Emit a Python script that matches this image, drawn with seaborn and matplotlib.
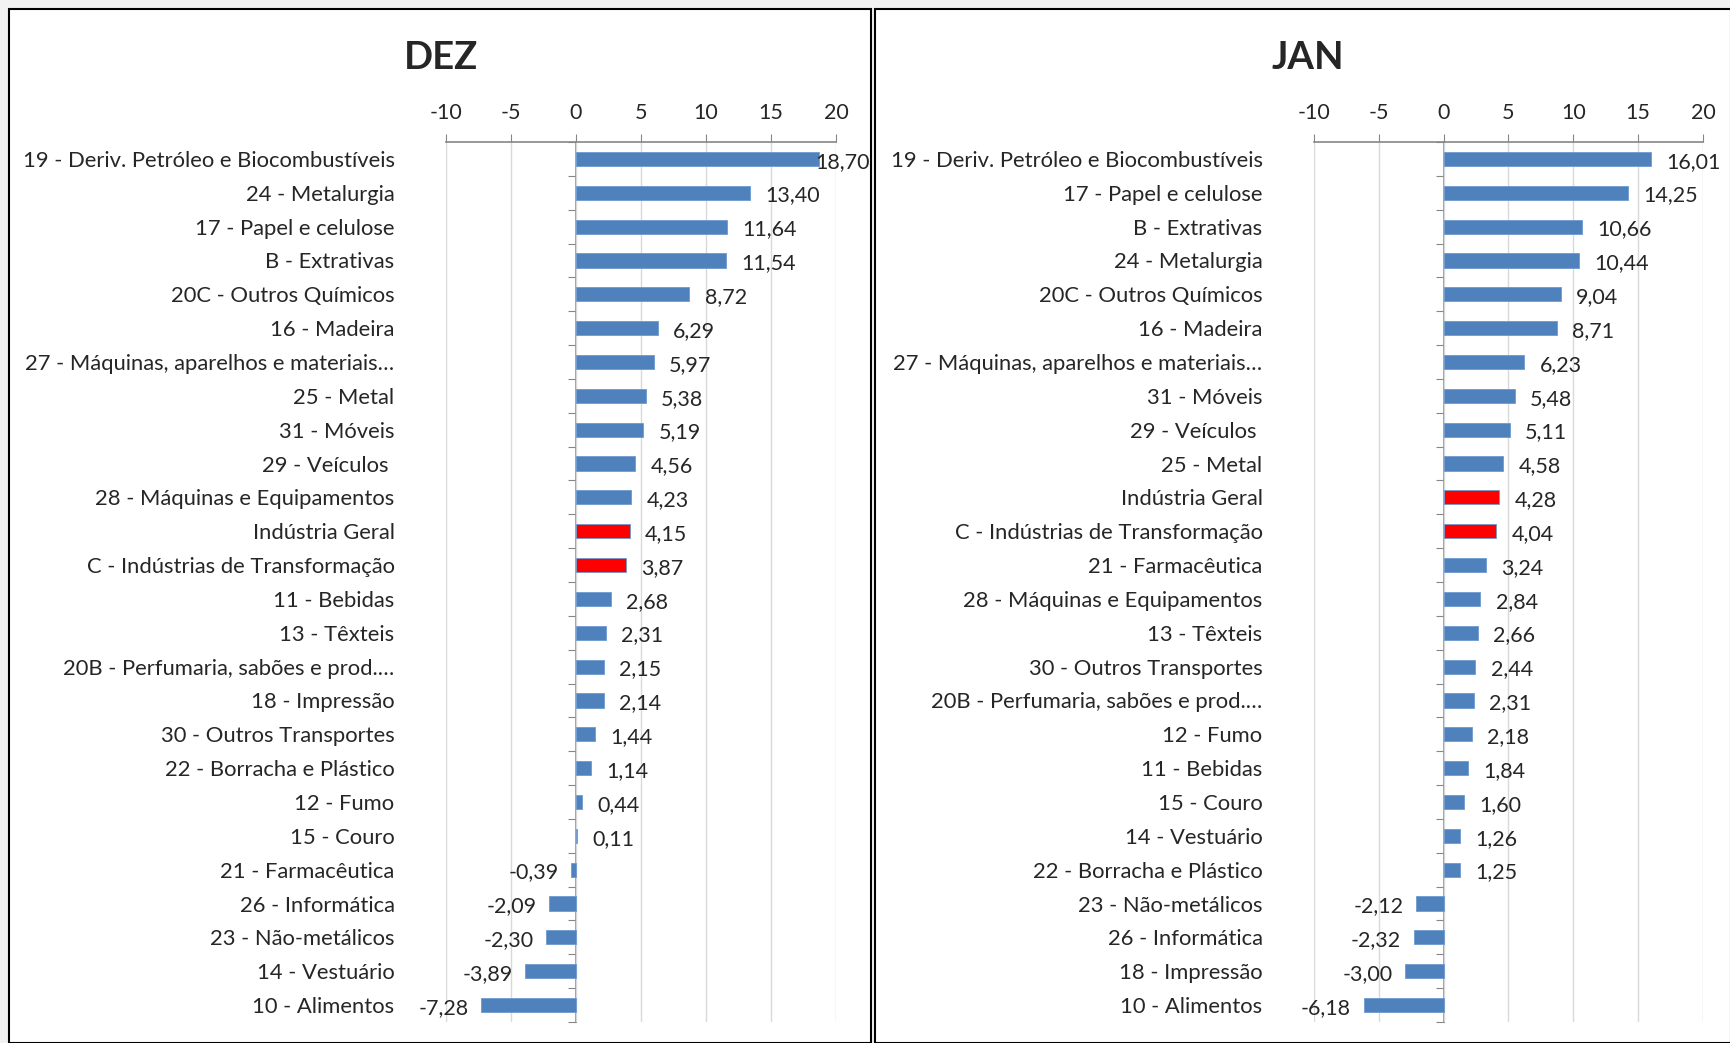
import numpy as np
import pandas as pd
import seaborn as sb
import matplotlib.pyplot as plt
from matplotlib.patches import Rectangle

sb.set_style("white")
plt.rcParams['font.family'] = ['Lato', 'DejaVu Sans']

dez_cats = ["19 - Deriv. Petróleo e Biocombustíveis", "24 - Metalurgia", "17 - Papel e celulose",
            "B - Extrativas", "20C - Outros Químicos", "16 - Madeira",
            "27 - Máquinas, aparelhos e materiais…", "25 - Metal", "31 - Móveis", "29 - Veículos ",
            "28 - Máquinas e Equipamentos", "Indústria Geral", "C - Indústrias de Transformação",
            "11 - Bebidas", "13 - Têxteis", "20B - Perfumaria, sabões e prod.…", "18 - Impressão",
            "30 - Outros Transportes", "22 - Borracha e Plástico", "12 - Fumo", "15 - Couro",
            "21 - Farmacêutica", "26 - Informática", "23 - Não-metálicos", "14 - Vestuário",
            "10 - Alimentos"]
dez_vals = [18.70, 13.40, 11.64, 11.54, 8.72, 6.29, 5.97, 5.38, 5.19, 4.56, 4.23, 4.15, 3.87,
            2.68, 2.31, 2.15, 2.14, 1.44, 1.14, 0.44, 0.11, -0.39, -2.09, -2.30, -3.89, -7.28]

jan_cats = ["19 - Deriv. Petróleo e Biocombustíveis", "17 - Papel e celulose", "B - Extrativas",
            "24 - Metalurgia", "20C - Outros Químicos", "16 - Madeira",
            "27 - Máquinas, aparelhos e materiais…", "31 - Móveis", "29 - Veículos ", "25 - Metal",
            "Indústria Geral", "C - Indústrias de Transformação", "21 - Farmacêutica",
            "28 - Máquinas e Equipamentos", "13 - Têxteis", "30 - Outros Transportes",
            "20B - Perfumaria, sabões e prod.…", "12 - Fumo", "11 - Bebidas", "15 - Couro",
            "14 - Vestuário", "22 - Borracha e Plástico", "23 - Não-metálicos", "26 - Informática",
            "18 - Impressão", "10 - Alimentos"]
jan_vals = [16.01, 14.25, 10.66, 10.44, 9.04, 8.71, 6.23, 5.48, 5.11, 4.58, 4.28, 4.04, 3.24,
            2.84, 2.66, 2.44, 2.31, 2.18, 1.84, 1.60, 1.26, 1.25, -2.12, -2.32, -3.00, -6.18]

highlight = ["Indústria Geral", "C - Indústrias de Transformação"]
x_ticks = [-10, -5, 0, 5, 10, 15, 20]

BLUE = "#4F81BD"
RED = "#FF0000"
GRID = "#D9D9D9"
AXIS = "#868686"

fig = plt.figure(figsize=(17.31, 10.43), dpi=100, facecolor="#F2F2F2")

# chart area frames
for x0, w in [(9, 862), (875, 856)]:
    fig.add_artist(Rectangle((x0 / 1731, 0), w / 1731, 1 - 9 / 1043, transform=fig.transFigure,
                             facecolor="white", edgecolor="black", linewidth=1.5, zorder=-1))


def panel(rect, title, cats, vals, title_x):
    ax = fig.add_axes(rect)
    df = pd.DataFrame({"cat": cats, "val": vals})
    df["grp"] = np.where(df["cat"].isin(highlight), "hl", "base")
    sb.barplot(data=df, x="val", y="cat", hue="grp", order=cats, palette={"base": BLUE, "hl": RED},
               dodge=False, legend=False, width=0.42, orient="h", ax=ax, saturation=1,
               edgecolor="#6D9AD0", linewidth=0.6)
    ax.set_xlim(-10, 20)
    ax.set_xticks(x_ticks)
    ax.set_xticklabels([str(t) for t in x_ticks], fontsize=15.5)
    ax.xaxis.tick_top()
    ax.tick_params(axis="x", direction="out", length=6, color=AXIS, pad=8)
    ax.tick_params(axis="y", length=0, pad=37, labelsize=15.8)
    ax.set_xlabel("")
    ax.set_ylabel("")
    ax.set_facecolor("none")
    ax.grid(axis="x", color=GRID, linewidth=1)
    ax.set_axisbelow(True)
    for s in ["left", "right", "bottom"]:
        ax.spines[s].set_visible(False)
    ax.spines["top"].set_color(AXIS)
    ax.spines["top"].set_linewidth(1.2)
    # category axis crossing at zero
    zx = ax.secondary_yaxis(1 / 3)
    zx.set_yticks(np.arange(-0.5, len(cats), 1))
    zx.set_yticklabels([])
    zx.tick_params(axis="y", direction="out", length=6, color=AXIS)
    zx.spines["left"].set_color(AXIS)
    zx.spines["left"].set_linewidth(1.2)
    for i, v in enumerate(vals):
        txt = f"{v:.2f}".replace(".", ",")
        if v >= 18:
            # label pushed back so it stays inside the chart area
            ax.annotate(txt, (v, i), xytext=(-3, -2), textcoords="offset points",
                        ha="left", va="center", fontsize=15.5)
        elif v >= 0:
            ax.annotate(txt, (v, i), xytext=(11, -2), textcoords="offset points",
                        ha="left", va="center", fontsize=15.5)
        else:
            ax.annotate(txt, (v, i), xytext=(-9, -2), textcoords="offset points",
                        ha="right", va="center", fontsize=15.5)
    fig.text(title_x, 1 - 58 / 1043, title, ha="center", va="center", fontsize=27.5,
             fontweight="bold")
    return ax


panel([446 / 1731, 21 / 1043, 390 / 1731, 880 / 1043], "DEZ", dez_cats, dez_vals, 441 / 1731)
panel([1314 / 1731, 21 / 1043, 389 / 1731, 880 / 1043], "JAN", jan_cats, jan_vals, 1308 / 1731)

plt.savefig("out.png", dpi=100, facecolor=fig.get_facecolor())
plt.close()
